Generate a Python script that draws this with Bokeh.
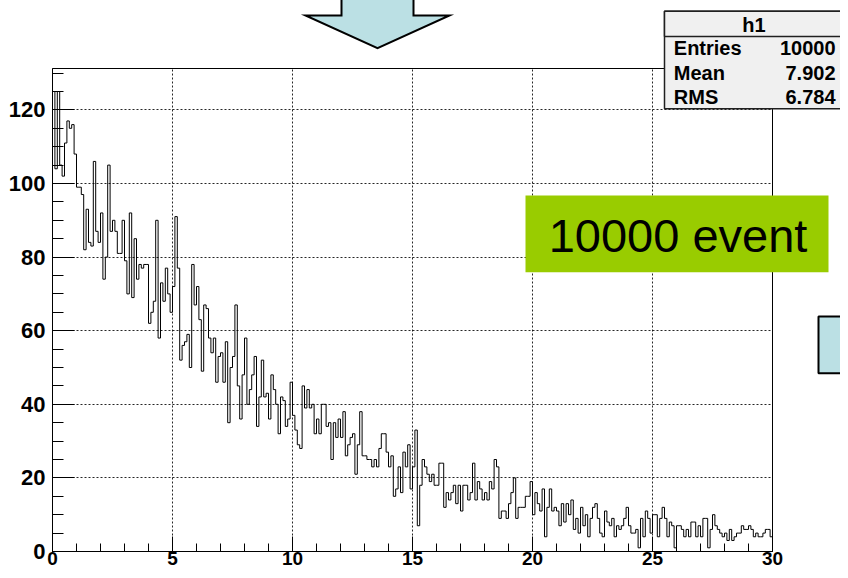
import numpy as np
from bokeh.plotting import figure
from bokeh.models import Range1d, FixedTicker
from bokeh.core.properties import value
from bokeh.embed import file_html
from bokeh.resources import INLINE

# ---------------- data ----------------
x_min, x_max, n_bins = 0.0, 30.0, 300
counts = [
    125, 104, 125, 105, 102, 111, 117, 115, 116, 108,
    99, 99, 97, 82, 93, 84, 83, 106, 87, 84,
    92, 74, 80, 105, 87, 90, 87, 81, 81, 90,
    79, 70, 92, 69, 85, 74, 78, 77, 78, 78,
    62, 65, 68, 90, 58, 73, 68, 77, 70, 65,
    72, 91, 77, 52, 56, 57, 59, 50, 78, 67,
    72, 63, 49, 67, 66, 58, 54, 58, 46, 53,
    54, 46, 57, 35, 50, 53, 67, 45, 36, 48,
    58, 40, 44, 48, 53, 34, 42, 52, 42, 43,
    36, 48, 44, 40, 32, 42, 41, 34, 36, 46,
    37, 33, 29, 28, 45, 39, 44, 39, 40, 32,
    36, 32, 40, 40, 34, 35, 25, 35, 31, 36,
    31, 38, 26, 29, 31, 32, 21, 29, 38, 26,
    26, 25, 25, 23, 25, 23, 28, 32, 32, 27,
    23, 26, 15, 17, 23, 16, 27, 23, 29, 17,
    23, 33, 7, 18, 25, 23, 21, 19, 21, 18,
    18, 24, 24, 12, 16, 14, 16, 18, 13, 18,
    11, 18, 18, 14, 16, 24, 14, 19, 17, 14,
    16, 14, 19, 17, 25, 23, 9, 11, 11, 9,
    13, 16, 20, 9, 12, 12, 12, 15, 15, 19,
    10, 16, 13, 11, 17, 4, 12, 17, 11, 12,
    11, 7, 13, 8, 13, 10, 14, 6, 9, 5,
    12, 7, 10, 4, 9, 12, 13, 9, 5, 4,
    11, 8, 7, 9, 4, 7, 6, 7, 9, 12,
    7, 5, 5, 6, 1, 9, 4, 11, 9, 5,
    10, 10, 4, 9, 12, 9, 4, 8, 7, 1,
    7, 7, 6, 4, 6, 4, 8, 8, 4, 7,
    4, 9, 9, 1, 6, 10, 7, 6, 5, 4,
    5, 3, 6, 3, 4, 5, 5, 7, 6, 6,
    7, 6, 4, 5, 4, 4, 5, 6, 6, 4,
]
x_major = [0, 5, 10, 15, 20, 25, 30]
x_minor = list(range(0, 31))
y_major = [0, 20, 40, 60, 80, 100, 120]
y_minor = list(range(0, 135, 5))
stats_title = "h1"
stats_names = ["Entries", "Mean", "RMS"]
stats_values = ["10000", "7.902", "6.784"]
note_text = "10000 event"

# ---------------- geometry (canvas px) ----------------
W, H = 840, 570
FL, FR, FT, FB = 52, 772, 68, 551
y_top = 1.05 * max(counts)

def dx(px):
    return x_min + (px - FL) / (FR - FL) * (x_max - x_min)

def dy(py):
    return (FB - py) / (FB - FT) * y_top

FONT = "Liberation Sans"

p = figure(width=W, height=H, x_range=Range1d(x_min, x_max), y_range=Range1d(0, y_top),
           output_backend="svg", toolbar_location=None, title=None,
           min_border_left=FL, min_border_right=W - FR,
           min_border_top=FT, min_border_bottom=H - FB)
p.background_fill_color = "white"
p.border_fill_color = "white"
p.outline_line_color = "black"
p.outline_line_width = 1

edges = np.linspace(x_min, x_max, n_bins + 1)
ys = np.append(np.array(counts, dtype=float), counts[-1])
p.step(edges, ys, mode="after", line_color="black", line_width=1)

xt = FixedTicker(ticks=x_major, minor_ticks=x_minor)
yt = FixedTicker(ticks=y_major, minor_ticks=y_minor)
p.xaxis.ticker = xt
p.yaxis.ticker = yt
p.xgrid.ticker = xt
p.ygrid.ticker = yt
for g in (p.xgrid, p.ygrid):
    g.grid_line_color = "black"
    g.grid_line_dash = "2 2"
    g.grid_line_width = 1
    g.grid_line_alpha = 0.85

for ax in (p.xaxis, p.yaxis):
    ax.axis_line_color = "black"
    ax.major_tick_line_color = "black"
    ax.minor_tick_line_color = "black"
    ax.major_tick_out = 0
    ax.minor_tick_out = 0
    ax.major_label_text_font = FONT
    ax.major_label_text_font_style = "bold"
    ax.major_label_text_color = "black"
p.xaxis.major_label_text_font_size = "19px"
p.yaxis.major_label_text_font_size = "22px"
p.xaxis.major_tick_in = 15
p.xaxis.minor_tick_in = 8
p.yaxis.major_tick_in = 22
p.yaxis.minor_tick_in = 11
p.xaxis.major_label_standoff = 0
p.yaxis.major_label_standoff = 7

# ---------------- decorations (unclipped overlay glyphs) ----------------
BLUE = "#bbe0e4"
arrow_x = [341, 341, 305, 377, 449, 413, 413]
arrow_y = [-5, 15, 15, 47.7, 15, 15, -5]
p.patch([dx(v) for v in arrow_x], [dy(v) for v in arrow_y], fill_color=BLUE,
        line_color="black", line_width=2, line_join="miter", level="overlay")

p.quad(left=[dx(818)], right=[dx(870)], top=[dy(316)], bottom=[dy(372.7)],
       fill_color=BLUE, line_color="black", line_width=2, level="overlay")

p.quad(left=[dx(525)], right=[dx(828)], top=[dy(195)], bottom=[dy(271.7)],
       fill_color="#99cc00", line_alpha=0, level="overlay")
p.text(x=[dx(677.5)], y=[dy(234.7)], text=[note_text], text_align="center",
       text_baseline="middle", text_font=value(FONT), text_font_size=value("47px"),
       text_color="black", level="overlay")

# stats box
p.quad(left=[dx(664)], right=[dx(845.5)], top=[dy(10.7)], bottom=[dy(108.3)],
       fill_color="#f0f0f0", line_color="#202020", line_width=1.5, level="overlay")
p.quad(left=[dx(664)], right=[dx(845.5)], top=[dy(10.7)], bottom=[dy(36)],
       fill_color="#f0f0f0", line_color="#202020", line_width=1.5, level="overlay")
p.text(x=[dx(753.5)], y=[dy(24.7)], text=[stats_title], text_align="center",
       text_baseline="middle", text_font=value(FONT), text_font_style="bold",
       text_font_size=value("20px"), text_color="black", level="overlay")
row_mid = [47.3, 72.3, 96.3]
p.text(x=[dx(673.3)] * 3, y=[dy(v) for v in row_mid], text=stats_names,
       text_align="left", text_baseline="middle", text_font=value(FONT),
       text_font_style="bold", text_font_size=value("20px"), text_color="black",
       level="overlay")
p.text(x=[dx(835)] * 3, y=[dy(v) for v in row_mid], text=stats_values,
       text_align="right", text_baseline="middle", text_font=value(FONT),
       text_font_style="bold", text_font_size=value("20px"), text_color="black",
       level="overlay")

open("out.html", "w").write(file_html(p, INLINE))
